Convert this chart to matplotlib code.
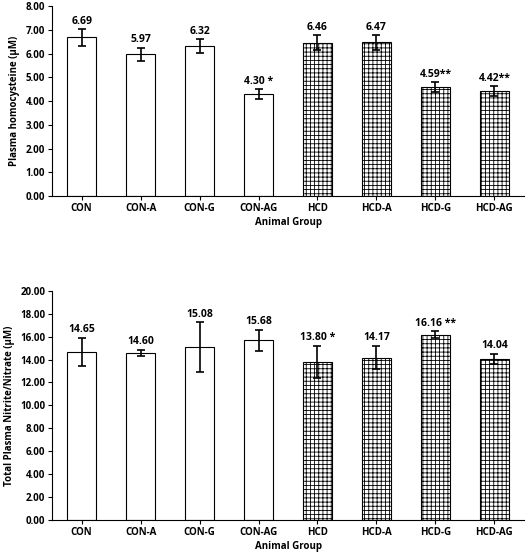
import numpy as np
import matplotlib.pyplot as plt

plt.rcParams['font.family'] = ['Open Sans', 'DejaVu Sans']
plt.rcParams['hatch.linewidth'] = 0.6

groups = ['CON', 'CON-A', 'CON-G', 'CON-AG', 'HCD', 'HCD-A', 'HCD-G', 'HCD-AG']
hcy = [6.69, 5.97, 6.32, 4.30, 6.46, 6.47, 4.59, 4.42]
hcy_err = [0.35, 0.28, 0.30, 0.20, 0.32, 0.30, 0.20, 0.22]
hcy_lbl = ['6.69', '5.97', '6.32', '4.30 *', '6.46', '6.47', '4.59**', '4.42**']
nox = [14.65, 14.60, 15.08, 15.68, 13.80, 14.17, 16.16, 14.04]
nox_err = [1.25, 0.25, 2.15, 0.90, 1.40, 1.00, 0.30, 0.45]
nox_lbl = ['14.65', '14.60', '15.08', '15.68', '13.80 *', '14.17', '16.16 **', '14.04']

fig = plt.figure(figsize=(5.27, 5.6), dpi=100)
ax1 = fig.add_axes([0.099, 0.65, 0.895, 0.339])
ax2 = fig.add_axes([0.099, 0.071, 0.895, 0.41])

def draw(ax, vals, errs, lbls, ymax, ylabel):
    x = np.arange(len(groups))
    for i in x:
        hatched = i >= 4
        ax.bar(i, vals[i], width=0.5, color='white', edgecolor='black', linewidth=0.8,
               hatch='++++' if hatched else None)
        ax.errorbar(i, vals[i], yerr=errs[i], color='black', capsize=3, elinewidth=1.2, capthick=1.2)
        ax.text(i, vals[i] + errs[i] + ymax * 0.012, lbls[i], ha='center', va='bottom',
                fontsize=7.5, fontweight='bold')
    ax.set_ylim(0, ymax)
    ax.set_xlim(-0.5, len(groups) - 0.5)
    step = 1 if ymax == 8 else 2
    ax.set_yticks(np.arange(0, ymax + 0.01, step))
    ax.set_yticklabels(['%.2f' % v for v in np.arange(0, ymax + 0.01, step)], fontsize=7, fontweight='bold')
    ax.set_xticks(x)
    ax.set_xticklabels(groups, fontsize=7, fontweight='bold')
    ax.set_xlabel('Animal Group', fontsize=7, fontweight='bold', labelpad=2)
    ax.set_ylabel(ylabel, fontsize=7, fontweight='bold')
    for s in ['top', 'right']:
        ax.spines[s].set_visible(False)
    ax.tick_params(length=3, pad=2)

draw(ax1, hcy, hcy_err, hcy_lbl, 8, 'Plasma homocysteine (µM)')
draw(ax2, nox, nox_err, nox_lbl, 20, 'Total Plasma Nitrite/Nitrate (µM)')

fig.savefig('out.png', dpi=100)
